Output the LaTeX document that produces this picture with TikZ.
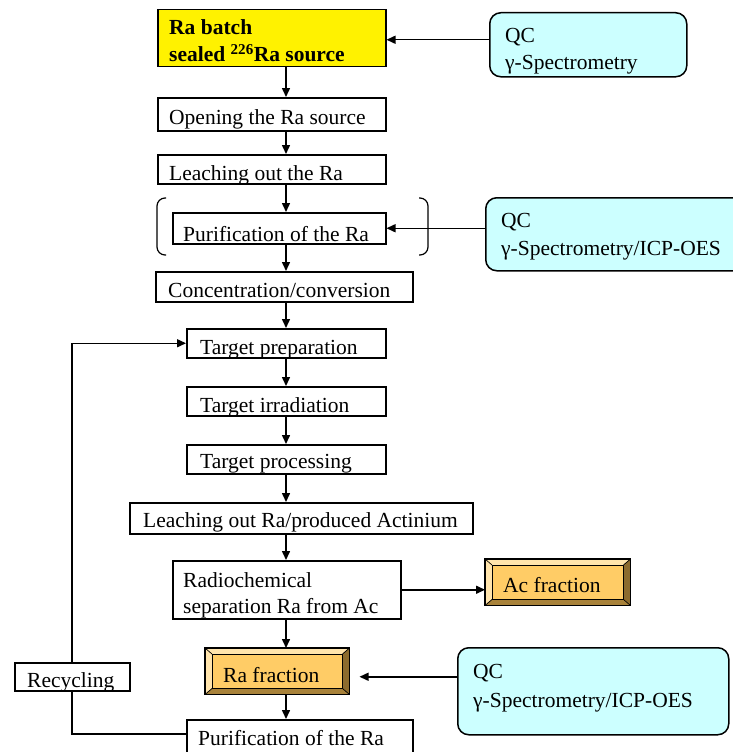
\documentclass[tikz,border=0pt]{standalone}
\usepackage{fontspec}
\setmainfont{Liberation Serif}
\usetikzlibrary{arrows.meta}
\definecolor{qccyan}{HTML}{CCFFFF}
\definecolor{fracorange}{HTML}{FFCC66}
\definecolor{bevlight}{HTML}{FFE4AC}
\definecolor{bevdark}{HTML}{8C6B2E}
\definecolor{bevmid}{HTML}{A8823A}
\newcommand{\mybox}[6][]{\node[box,#1,minimum width={#5-#3},minimum height={#6-#4}] (#2) at (#3,#4) {};}
\newcommand{\mybevel}[1]{%
  \fill[bevlight] (#1.north west) -- (#1.north east) -- ([shift={(-7pt,-6pt)}]#1.north east) -- ([shift={(7pt,-6pt)}]#1.north west) -- cycle;
  \fill[bevlight] (#1.north west) -- ([shift={(7pt,-6pt)}]#1.north west) -- ([shift={(7pt,6pt)}]#1.south west) -- (#1.south west) -- cycle;
  \fill[bevdark] (#1.north east) -- (#1.south east) -- ([shift={(-7pt,6pt)}]#1.south east) -- ([shift={(-7pt,-6pt)}]#1.north east) -- cycle;
  \fill[bevmid] (#1.south west) -- (#1.south east) -- ([shift={(-7pt,6pt)}]#1.south east) -- ([shift={(7pt,6pt)}]#1.south west) -- cycle;
  \draw[line width=0.7pt] ([shift={(7pt,-6pt)}]#1.north west) rectangle ([shift={(-7pt,6pt)}]#1.south east);
  \draw[line width=0.7pt] (#1.north west) -- ([shift={(7pt,-6pt)}]#1.north west)
    (#1.north east) -- ([shift={(-7pt,-6pt)}]#1.north east)
    (#1.south west) -- ([shift={(7pt,6pt)}]#1.south west)
    (#1.south east) -- ([shift={(-7pt,6pt)}]#1.south east);
  \draw[line width=1.6pt] (#1.north west) rectangle (#1.south east);}
\begin{document}
\begin{tikzpicture}[x=1pt,y=-1pt,
  box/.style={draw, line width=1.5pt, inner sep=0pt, anchor=north west},
  qc/.style={fill=qccyan, rounded corners=11pt},
  frac/.style={fill=fracorange},
  txt/.style={anchor=base west, inner sep=0pt, font=\fontsize{21.5}{26}\selectfont},
  arr/.style={-{Triangle[length=9pt,width=8pt]}, line width=1.5pt},
  ln/.style={line width=1.5pt},
  brk/.style={line width=1.2pt, rounded corners=8pt}]
\useasboundingbox (0,0) rectangle (733,752);
\clip (0,0) rectangle (733,752);
\fill[white] (0,0) rectangle (733,752);
\coordinate (spine) at (286,0);
\coordinate (loopx) at (72,0);
% boxes
\mybox[fill=yellow]{yel}{157}{9}{385}{66}
\mybox{open}{157}{97}{385}{130}
\mybox{leach}{157}{154}{385}{183}
\mybox{pur}{172}{212}{385}{243}
\mybox{conc}{155}{271}{412}{301}
\mybox{tprep}{186}{328}{385}{357}
\mybox{tirr}{186}{386}{385}{415}
\mybox{tproc}{186}{444}{385}{473}
\mybox{leachb}{129}{502}{472}{533}
\mybox{radio}{172}{560}{400}{618}
\mybox[frac]{ac}{485}{559}{629}{604}
\mybox[frac]{ra}{205}{648}{348}{693}
\mybox{recyc}{14}{662}{129}{690}
\mybox{purb}{186}{719}{412}{762}
\mybox[qc]{qca}{489}{12}{686}{76}
\mybox[qc]{qcb}{485}{197}{748}{270}
\mybox[qc]{qcc}{457}{647}{728}{734}
\mybevel{ac}
\mybevel{ra}
% brackets
\draw[brk] (166,198) -- (157,198) -- (157,255) -- (166,255);
\draw[brk] (419,198) -- (428,198) -- (428,255) -- (419,255);
% texts
\node[txt,font=\fontsize{21.5}{26}\selectfont\bfseries] (t1) at (169,35) {Ra batch};
\node[txt,font=\fontsize{21.5}{26}\selectfont\bfseries] (t2) at (169,62) {sealed \textsuperscript{226}Ra source};
\node[txt] (t3) at (505,43) {QC};
\node[txt] (t4) at (505,70) {γ-Spectrometry};
\node[txt] (t5) at (169,124) {Opening the Ra source};
\node[txt] (t6) at (169,180) {Leaching out the Ra};
\node[txt] (t7) at (183,241) {Purification of the Ra};
\node[txt] (t8) at (501,227) {QC};
\node[txt] (t9) at (501,255) {γ-Spectrometry/ICP-OES};
\node[txt] (t10) at (168,297) {Concentration/conversion};
\node[txt] (t11) at (200,354) {Target preparation};
\node[txt] (t12) at (200,412) {Target irradiation};
\node[txt] (t13) at (200,468) {Target processing};
\node[txt] (t14) at (143,527) {Leaching out Ra/produced Actinium};
\node[txt] (t15) at (183,587) {Radiochemical};
\node[txt] (t16) at (183,613) {separation Ra from Ac};
\node[txt] (t17) at (503,592) {Ac fraction};
\node[txt] (t18) at (223,682) {Ra fraction};
\node[txt] (t19) at (473,678) {QC};
\node[txt] (t20) at (473,707) {γ-Spectrometry/ICP-OES};
\node[txt] (t21) at (27,687) {Recycling};
\node[txt] (t22) at (198,745) {Purification of the Ra};
% main chain
\foreach \a/\b in {yel/open,open/leach,leach/pur,pur/conc,conc/tprep,tprep/tirr,tirr/tproc,tproc/leachb,leachb/radio,radio/ra,ra/purb}
  \draw[arr] (\a.south -| spine) -- (\b.north -| spine);
% side arrows
\draw[arr] ([yshift=5pt]qca.west) -- ([yshift=5pt]qca.west -| yel.east);
\draw[arr] (qcb.west |- pur.east) -- (pur.east);
\draw[arr] (radio.east) -- (radio.east -| ac.west);
\coordinate (rain) at ([shift={(10pt,-5.5pt)}]ra.east);
\draw[arr] (qcc.west |- rain) -- (rain);
% recycling loop
\coordinate (rbot) at ([yshift=-15pt]purb.north west);
\draw[ln] (rbot) -- (rbot -| loopx) -- (recyc.south -| loopx);
\draw[arr] (recyc.north -| loopx) |- (tprep.west);
\end{tikzpicture}
\end{document}
